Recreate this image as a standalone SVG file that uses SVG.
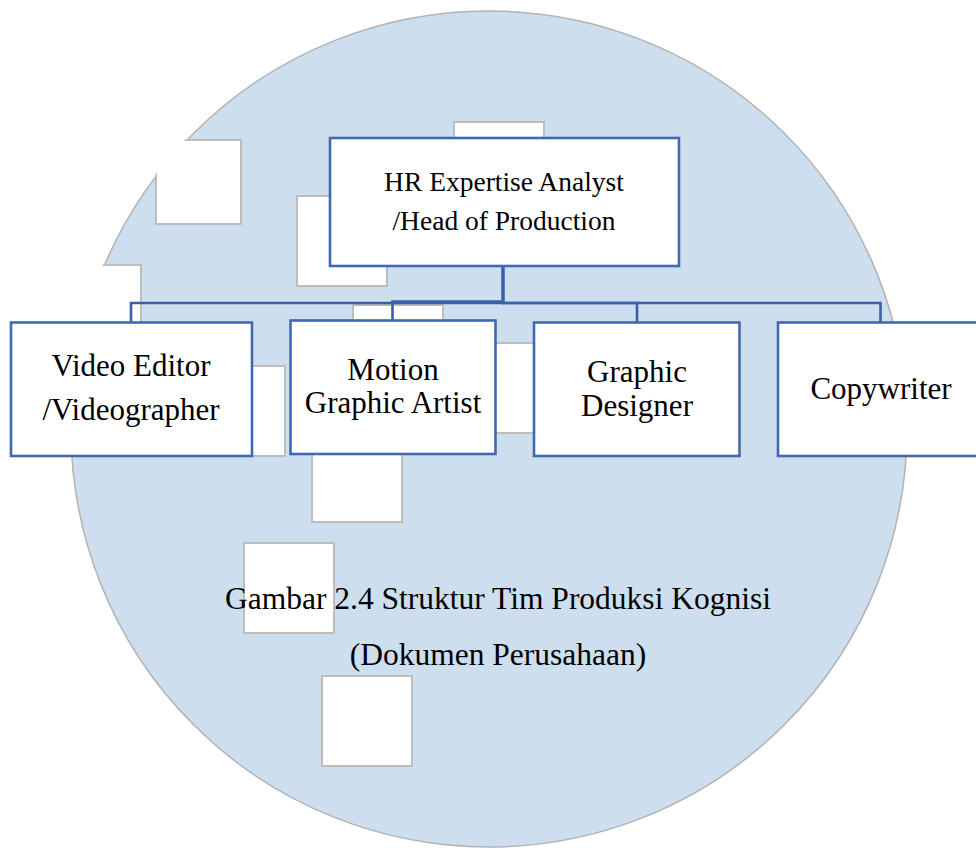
<svg xmlns="http://www.w3.org/2000/svg" width="976" height="848" viewBox="0 0 976 848">
<style>
.hole{fill:#ffffff;stroke:#bdbdbd;stroke-width:2}
.box{fill:#ffffff;stroke:#4169b3;stroke-width:2.6}
.con{fill:none;stroke:#3b60a9;stroke-width:2.6}
.t{font-family:"Liberation Serif","Times New Roman",serif;fill:#000;text-anchor:middle}
</style>
<defs>
<clipPath id="circ"><circle cx="489" cy="429" r="419.5"/></clipPath>
</defs>
<rect width="976" height="848" fill="#ffffff"/>
<g id="background">
<circle cx="489" cy="429" r="418" fill="#cddfee" stroke="#b3b3b3" stroke-width="1.5"/>
<g clip-path="url(#circ)">
<rect class="hole" x="156" y="140" width="85" height="84"/>
<rect class="hole" x="51" y="265" width="90" height="90"/>
<rect class="hole" x="297" y="196" width="90" height="90"/>
<rect class="hole" x="454" y="122" width="90" height="90"/>
<rect class="hole" x="353" y="305" width="90" height="90"/>
<rect class="hole" x="195" y="366" width="90" height="90"/>
<rect class="hole" x="450" y="343" width="90" height="90"/>
<rect class="hole" x="312" y="432" width="90" height="90"/>
<rect class="hole" x="244" y="543" width="90" height="90"/>
<rect class="hole" x="322" y="676" width="90" height="90"/>
</g>
</g>
<g id="connectors">
<path class="con" d="M503,266 V303 H131 V322"/>
<path class="con" d="M503,266 V301.5 H392.5 V320"/>
<path class="con" d="M503,266 V303 H637 V322"/>
<path class="con" d="M503,266 V303 H880.5 V322"/>
</g>
<g id="hr">
<rect class="box" x="330" y="138" width="349" height="128"/>
<text class="t" x="504" y="191" font-size="27.5">HR Expertise Analyst</text>
<text class="t" x="504" y="230" font-size="27.5">/Head of Production</text>
</g>
<g id="video">
<rect class="box" x="11" y="322.5" width="241" height="133.5"/>
<text class="t" x="131" y="376" font-size="31">Video Editor</text>
<text class="t" x="131" y="420" font-size="31">/Videographer</text>
</g>
<g id="motion">
<rect class="box" x="290.5" y="320.5" width="205" height="133.5"/>
<text class="t" x="393" y="380" font-size="31">Motion</text>
<text class="t" x="393" y="413" font-size="31">Graphic Artist</text>
</g>
<g id="graphic">
<rect class="box" x="534" y="322.5" width="205.5" height="133.5"/>
<text class="t" x="637" y="382" font-size="31">Graphic</text>
<text class="t" x="637" y="416" font-size="31">Designer</text>
</g>
<g id="copywriter">
<rect class="box" x="778" y="322.5" width="210" height="133.5"/>
<text class="t" x="881" y="399" font-size="31">Copywriter</text>
</g>
<g id="caption">
<text class="t" x="498" y="609" font-size="31.5">Gambar 2.4 Struktur Tim Produksi Kognisi</text>
<text class="t" x="498" y="665" font-size="31.5">(Dokumen Perusahaan)</text>
</g>
</svg>
